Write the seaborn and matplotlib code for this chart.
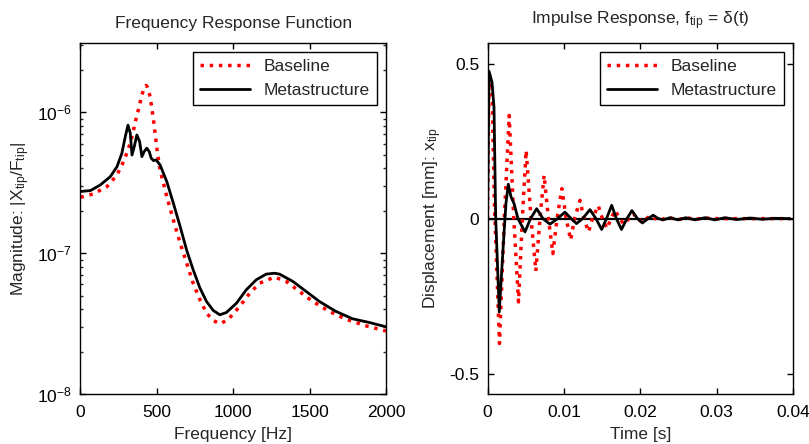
import matplotlib.pyplot as plt
import numpy as np
import seaborn as sns
from matplotlib.ticker import NullFormatter

# frequency response
freq_base = [0, 87, 174, 239, 282, 315, 343, 358, 380, 402, 420, 430, 440, 456, 478, 504, 521, 565,
             608, 652, 695, 738, 782, 825, 869, 912, 966, 1042, 1108, 1173, 1270, 1347, 1433, 1520,
             1629, 1737, 1868, 2000]
mag_base = [2.49e-7, 2.64e-7, 2.97e-7, 3.59e-7, 4.47e-7, 5.55e-7, 7.1e-7, 8.5e-7, 1.05e-6, 1.33e-6,
            1.52e-6, 1.55e-6, 1.5e-6, 1.29e-6, 8.8e-7, 5.1e-7, 3.9e-7, 2.52e-7, 1.72e-7, 1.18e-7,
            8.5e-8, 6.1e-8, 4.67e-8, 3.75e-8, 3.33e-8, 3.15e-8, 3.37e-8, 4.18e-8, 5.2e-8, 6.12e-8,
            6.76e-8, 6.3e-8, 5.35e-8, 4.54e-8, 3.86e-8, 3.4e-8, 3.05e-8, 2.8e-8]

freq_meta = [0, 65, 130, 195, 239, 271, 293, 311, 326, 337, 352, 369, 387, 402, 417, 434, 450, 463,
             478, 495, 521, 565, 608, 652, 695, 738, 782, 825, 869, 912, 955, 1021, 1086, 1151,
             1216, 1270, 1303, 1390, 1477, 1564, 1672, 1781, 1890, 2000]
mag_meta = [2.74e-7, 2.78e-7, 3.05e-7, 3.49e-7, 4.11e-7, 5.12e-7, 6.7e-7, 8.1e-7, 7.1e-7, 4.97e-7,
            5.7e-7, 6.9e-7, 6.2e-7, 4.84e-7, 5.26e-7, 5.56e-7, 5.26e-7, 4.72e-7, 4.54e-7, 4.59e-7,
            4.23e-7, 3.22e-7, 2.26e-7, 1.55e-7, 1.05e-7, 7.6e-8, 5.65e-8, 4.54e-8, 3.92e-8, 3.65e-8,
            3.79e-8, 4.41e-8, 5.5e-8, 6.47e-8, 7.1e-8, 7.2e-8, 7.1e-8, 6.3e-8, 5.35e-8, 4.54e-8,
            3.86e-8, 3.42e-8, 3.22e-8, 3.0e-8]

# impulse response
t_base = [0, 0.0002, 0.0006, 0.0009, 0.00157, 0.0022, 0.00284, 0.00344, 0.00406, 0.00456, 0.00506,
          0.0057, 0.00633, 0.00687, 0.00741, 0.00798, 0.00856, 0.0091, 0.00974, 0.0103, 0.01089,
          0.0114, 0.01211, 0.01263, 0.01323, 0.01374, 0.0145, 0.01505, 0.01566, 0.01616, 0.01672,
          0.01728, 0.01788, 0.0185, 0.0191, 0.0196, 0.0203, 0.0208, 0.0214, 0.022, 0.0226, 0.0231,
          0.0237, 0.0243, 0.0249, 0.026, 0.0272, 0.0284, 0.030, 0.0396]
v_base = [0.0, 0.47, 0.40, 0.05, -0.403, 0.0, 0.333, 0.0, -0.269, 0.0, 0.220, 0.0, -0.169, 0.0, 0.140,
          0.0, -0.113, 0.0, 0.097, 0.0, -0.069, 0.0, 0.059, 0.0, -0.043, 0.0, 0.042, 0.0, -0.032, 0.0,
          0.027, 0.0, -0.018, 0.0, 0.016, 0.0, -0.012, 0.0, 0.010, 0.0, -0.007, 0.0, 0.006, 0.0,
          -0.004, 0.003, -0.002, 0.002, 0.0, 0.0]

t_meta = [0, 0.0002, 0.00059, 0.00085, 0.00107, 0.00154, 0.00216, 0.00242, 0.00272, 0.00308, 0.00347,
          0.00399, 0.00491, 0.00563, 0.00644, 0.00726, 0.00818, 0.00916, 0.01014, 0.01095, 0.01165,
          0.01245, 0.01342, 0.0142, 0.01495, 0.01558, 0.01626, 0.01688, 0.01754, 0.01826, 0.01891,
          0.01963, 0.02029, 0.02101, 0.0217, 0.02238, 0.02301, 0.02389, 0.02493, 0.02598, 0.02716,
          0.02847, 0.02978, 0.03109, 0.03266, 0.03436, 0.03593, 0.03763, 0.0396]
v_meta = [0.0, 0.476, 0.44, 0.36, 0.005, -0.301, -0.047, 0.05, 0.111, 0.07, 0.049, 0.0, -0.043, 0.0,
          0.032, 0.0, -0.018, 0.0, 0.021, 0.0, -0.016, 0.0, 0.029, 0.0, -0.035, 0.0, 0.043, 0.0, -0.035,
          0.0, 0.026, 0.0, -0.014, 0.0, 0.011, 0.0, -0.004, 0.003, -0.004, 0.003, -0.004, 0.003,
          -0.004, 0.003, -0.003, 0.002, -0.002, 0.001, 0.0]

freq_ticks = [0, 500, 1000, 1500, 2000]
time_ticks = [0, 0.01, 0.02, 0.03, 0.04]
time_labels = ['0', '0.01', '0.02', '0.03', '0.04']
disp_ticks = [-0.5, 0, 0.5]
disp_labels = ['-0.5', '0', '0.5']

sns.set_style('ticks')
plt.rcParams['font.family'] = ['Liberation Sans', 'DejaVu Sans']
plt.rcParams['mathtext.default'] = 'regular'
plt.rcParams['axes.unicode_minus'] = False
fs = 12.5

fig = plt.figure(figsize=(8.09, 4.44), dpi=100)
ax1 = fig.add_axes([0.0995, 0.1126, 0.3776, 0.790])
ax2 = fig.add_axes([0.6026, 0.1126, 0.3776, 0.790])

# 1. frequency response
sns.lineplot(x=freq_base, y=mag_base, ax=ax1, color='#ff0000', lw=2.5, linestyle=':', label='Baseline')
sns.lineplot(x=freq_meta, y=mag_meta, ax=ax1, color='black', lw=2, label='Metastructure')
ax1.set_yscale('log')
ax1.set_xlim(0, 2000)
ax1.set_ylim(1e-8, 10**-5.51)
ax1.set_xticks(freq_ticks)
ax1.yaxis.set_minor_formatter(NullFormatter())
ax1.set_title('Frequency Response Function', fontsize=fs, pad=11)
ax1.set_xlabel('Frequency [Hz]', fontsize=fs, labelpad=5)
ax1.set_ylabel('Magnitude: |X$_{tip}$/F$_{tip}$|', fontsize=fs)

# 2. impulse response
sns.lineplot(x=t_base, y=v_base, ax=ax2, color='#ff0000', lw=2.5, linestyle=':', label='Baseline')
sns.lineplot(x=t_meta, y=v_meta, ax=ax2, color='black', lw=2, label='Metastructure')
ax2.axhline(0, color='black', lw=1.6, zorder=1)
ax2.set_xlim(0, 0.04)
ax2.set_ylim(-0.566, 0.566)
ax2.set_xticks(time_ticks)
ax2.set_xticklabels(time_labels)
ax2.set_yticks(disp_ticks)
ax2.set_yticklabels(disp_labels)
ax2.set_title('Impulse Response, f$_{tip}$ = δ(t)', fontsize=fs, pad=14)
ax2.set_xlabel('Time [s]', fontsize=fs, labelpad=5)
ax2.set_ylabel('Displacement [mm]: x$_{tip}$', fontsize=fs)

for ax in (ax1, ax2):
    for s in ax.spines.values():
        s.set_color('black')
        s.set_linewidth(1)
    ax.tick_params(which='major', direction='in', top=True, right=True, length=4, width=1,
                   labelsize=fs, colors='black')
    ax.tick_params(axis='x', which='major', pad=8)
    ax.tick_params(axis='y', which='major', pad=6)
    ax.tick_params(which='minor', direction='in', top=True, right=True, length=2, width=1)
    leg = ax.legend(loc='upper right', bbox_to_anchor=(0.971, 0.974), borderaxespad=0,
                    fancybox=False, edgecolor='black', framealpha=1, handlelength=2.9,
                    fontsize=fs)
    leg.get_frame().set_linewidth(1)

fig.savefig('out.png', dpi=100)
